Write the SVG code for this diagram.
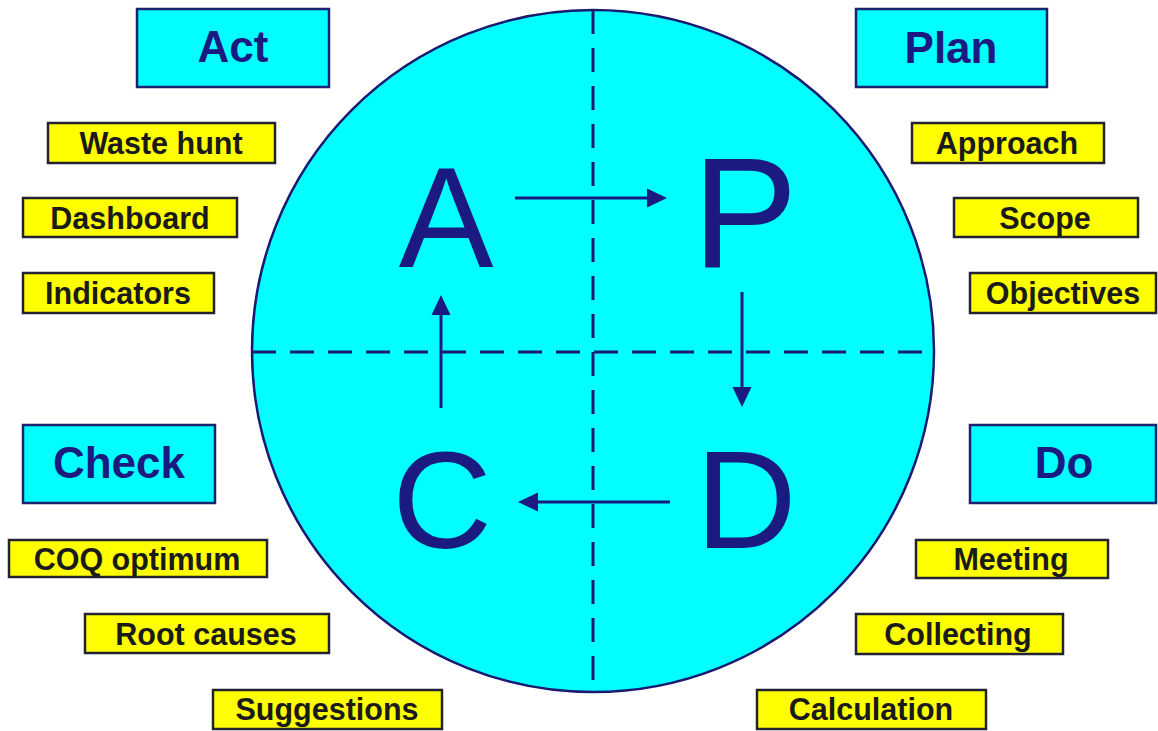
<svg xmlns="http://www.w3.org/2000/svg" width="1158" height="731" viewBox="0 0 1158 731">
<defs>
<style>
.hdr rect{fill:#00ffff;stroke:#1c2470;stroke-width:2.5}
.hdr text{font-family:"Liberation Sans",Arial,sans-serif;font-weight:bold;font-size:44px;fill:#1a1a80;text-anchor:middle}
.item rect{fill:#ffff00;stroke:#222233;stroke-width:2.5}
.item text{font-family:"Liberation Sans",Arial,sans-serif;font-weight:bold;font-size:30.5px;fill:#1a1a1a;text-anchor:middle}
.big{font-family:"Liberation Sans",Arial,sans-serif;fill:#1a1a80;text-anchor:middle}
.dash{stroke:#1a1a70;stroke-width:3;stroke-dasharray:24 14;fill:none}
.arr{stroke:#1a1a80;stroke-width:3;fill:none;marker-end:url(#ah)}
</style>
<marker id="ah" markerUnits="userSpaceOnUse" markerWidth="20" markerHeight="20" viewBox="0 0 20 20" refX="14" refY="10" orient="auto">
<path d="M0,0.5 L20,10 L0,19.5 z" fill="#1a1a80"/>
</marker>
</defs>
<rect width="1158" height="731" fill="#ffffff"/>
<g id="cycle">
<circle cx="593" cy="351" r="341" fill="#00ffff" stroke="#1a1a70" stroke-width="2.5"/>
<line class="dash" x1="593" y1="10" x2="593" y2="692"/>
<line class="dash" x1="252" y1="352" x2="934" y2="352"/>
</g>
<g id="letters">
<text class="big" x="446" y="267" font-size="142">A</text>
<text class="big" x="745" y="267" font-size="158">P</text>
<text class="big" x="442" y="548" font-size="138">C</text>
<text class="big" x="746" y="548" font-size="140">D</text>
</g>
<g id="connectors">
<line class="arr" x1="515" y1="198" x2="661" y2="198"/>
<line class="arr" x1="742" y1="292" x2="742" y2="401"/>
<line class="arr" x1="670" y1="502" x2="524" y2="502"/>
<line class="arr" x1="441" y1="408" x2="441" y2="301"/>
</g>
<g id="act" class="hdr"><rect x="137" y="9" width="192" height="78"/><text x="233" y="62">Act</text></g>
<g id="plan" class="hdr"><rect x="856" y="9" width="191" height="78"/><text x="951" y="63">Plan</text></g>
<g id="check" class="hdr"><rect x="23" y="425" width="192" height="78"/><text x="119" y="478">Check</text></g>
<g id="do" class="hdr"><rect x="970" y="425" width="186" height="78"/><text x="1064" y="478">Do</text></g>
<g id="waste-hunt" class="item"><rect x="48" y="123" width="227" height="40"/><text x="161" y="154">Waste hunt</text></g>
<g id="dashboard" class="item"><rect x="23" y="198" width="214" height="39"/><text x="130" y="229">Dashboard</text></g>
<g id="indicators" class="item"><rect x="23" y="273" width="191" height="40"/><text x="118" y="304">Indicators</text></g>
<g id="coq-optimum" class="item"><rect x="9" y="540" width="258" height="37"/><text x="137" y="570">COQ optimum</text></g>
<g id="root-causes" class="item"><rect x="85" y="614" width="244" height="39"/><text x="206" y="645">Root causes</text></g>
<g id="suggestions" class="item"><rect x="213" y="690" width="229" height="39"/><text x="327" y="720">Suggestions</text></g>
<g id="approach" class="item"><rect x="912" y="123" width="192" height="40"/><text x="1007" y="154">Approach</text></g>
<g id="scope" class="item"><rect x="954" y="198" width="184" height="39"/><text x="1045" y="229">Scope</text></g>
<g id="objectives" class="item"><rect x="970" y="273" width="186" height="40"/><text x="1063" y="304">Objectives</text></g>
<g id="meeting" class="item"><rect x="916" y="540" width="192" height="38"/><text x="1011" y="570">Meeting</text></g>
<g id="collecting" class="item"><rect x="856" y="614" width="207" height="40"/><text x="958" y="645">Collecting</text></g>
<g id="calculation" class="item"><rect x="757" y="690" width="229" height="39"/><text x="871" y="720">Calculation</text></g>
</svg>
